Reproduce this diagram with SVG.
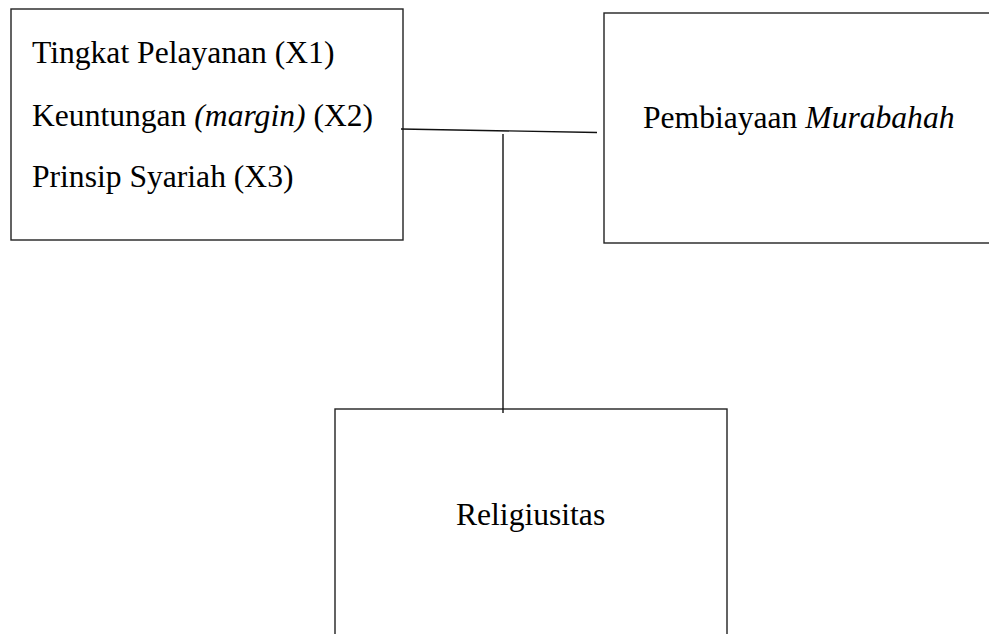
<svg xmlns="http://www.w3.org/2000/svg" width="989" height="634" viewBox="0 0 989 634">
<style>
.box{fill:#fff;stroke:#222;stroke-width:1.4}
.t{font-family:'Liberation Serif','Times New Roman',serif;font-size:31.6px;fill:#000}
.i{font-style:italic}
.c{stroke:#111;stroke-width:1.4;fill:none}
</style>
<rect width="989" height="634" fill="#fff"/>
<g id="node-x">
<rect class="box" x="11" y="9" width="392" height="231"/>
<text class="t" x="32" y="63">Tingkat Pelayanan (X1)</text>
<text class="t" x="32" y="126">Keuntungan <tspan class="i">(margin)</tspan> (X2)</text>
<text class="t" x="32" y="187">Prinsip Syariah (X3)</text>
</g>
<g id="node-murabahah">
<rect class="box" x="604" y="13" width="400" height="230"/>
<text class="t" x="643" y="128">Pembiayaan <tspan class="i">Murabahah</tspan></text>
</g>
<g id="node-religiusitas">
<rect class="box" x="335" y="409" width="392" height="240"/>
<text class="t" x="456" y="524.5">Religiusitas</text>
</g>
<g id="connectors">
<line class="c" x1="401" y1="129" x2="597" y2="132.5"/>
<line class="c" x1="503" y1="134" x2="503" y2="413"/>
</g>
</svg>
